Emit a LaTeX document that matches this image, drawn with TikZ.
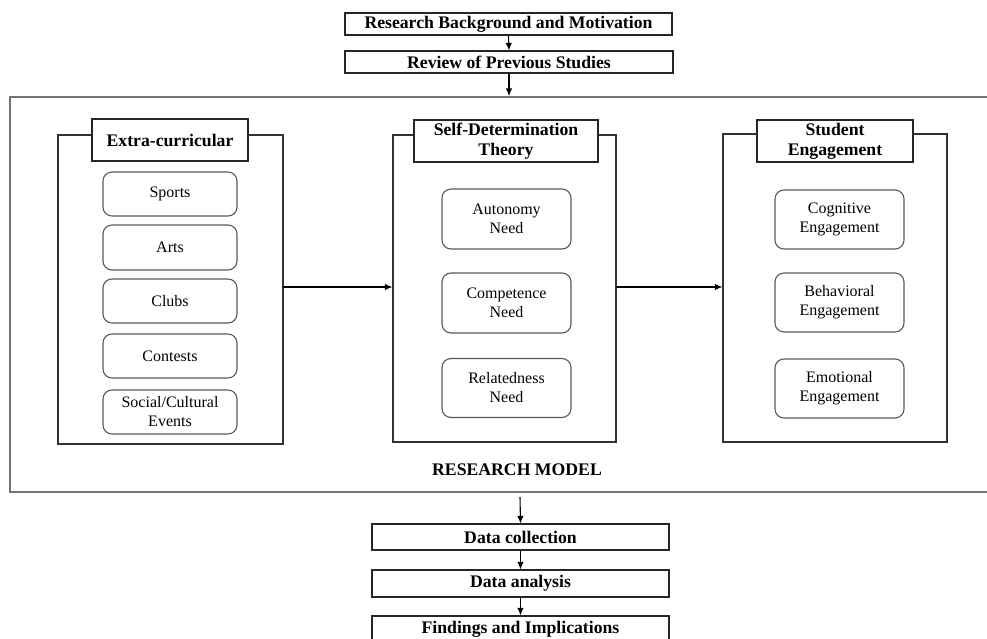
\documentclass[tikz,border=0pt]{standalone}
\usepackage{fontspec}
\setmainfont{Liberation Serif}
\usetikzlibrary{arrows.meta}
\begin{document}
\begin{tikzpicture}[x=1pt,y=-1pt,
  bx/.style={draw=black!85, line width=1.1pt, fill=white, inner sep=0pt, align=center,
    font=\fontsize{17.7}{20}\selectfont\bfseries},
  cont/.style={draw=black!80, line width=1.1pt, inner sep=0pt},
  item/.style={draw=black!65, line width=1.1pt, rounded corners=9pt, inner sep=0pt, align=center,
    font=\fontsize{16}{19}\selectfont},
  arr/.style={line width=1.1pt, -{Latex[length=7.5pt,width=6.5pt]}},
]
\useasboundingbox (0,0) rectangle (987,639);

% top flow
\node[bx, minimum width=327pt, minimum height=22pt] (rb) at (508.5,24) {Research Background and Motivation};
\node[bx, minimum width=328pt, minimum height=22pt] (rv) at (509,62) {Review of Previous Studies};
\draw[arr] (rb.south) -- (rv.north);

% outer research model frame (open at right)
\draw[draw=black!55, line width=1.5pt] (1000,97) -- (10,97) -- (10,492) -- (1000,492);
\coordinate (otop) at (509,96);
\draw[arr] (rv.south) -- (otop);

% left container
\node[cont, minimum width=225pt, minimum height=309pt] (lc) at (170.5,289.5) {};
\node[bx, minimum width=156pt, minimum height=42pt] (lt) at (170,140) {Extra-curricular};
\node[item, minimum width=134pt, minimum height=44pt] (sp) at (170,194) {Sports};
\node[item, minimum width=134pt, minimum height=45pt] (ar) at (170,247.5) {Arts};
\node[item, minimum width=134pt, minimum height=44pt] (cl) at (170,301) {Clubs};
\node[item, minimum width=134pt, minimum height=44pt] (co) at (170,356) {Contests};
\node[item, minimum width=134pt, minimum height=44pt] (so) at (170,412) {Social/Cultural\\Events};

% middle container
\node[cont, minimum width=223pt, minimum height=307pt] (mc) at (504.5,288.5) {};
\node[bx, minimum width=184pt, minimum height=42pt] (mt) at (506,141) {Self-Determination\\Theory};
\node[item, minimum width=129pt, minimum height=60pt] (au) at (506.5,219) {Autonomy\\Need};
\node[item, minimum width=129pt, minimum height=60pt] (cp) at (506.5,303) {Competence\\Need};
\node[item, minimum width=129pt, minimum height=59pt] (re) at (506.5,388) {Relatedness\\Need};

% right container
\node[cont, minimum width=224pt, minimum height=308pt] (rc) at (835,288) {};
\node[bx, minimum width=156pt, minimum height=42pt] (rt) at (835,141) {Student\\Engagement};
\node[item, minimum width=129pt, minimum height=59pt] (cg) at (839.5,219.5) {Cognitive\\Engagement};
\node[item, minimum width=129pt, minimum height=59pt] (bh) at (839.5,302.5) {Behavioral\\Engagement};
\node[item, minimum width=129pt, minimum height=59pt] (em) at (839.5,388.5) {Emotional\\Engagement};

% connectors between containers
\coordinate (la) at (283,287);
\draw[arr] (la) -- (la -| mc.west);
\coordinate (ma) at (616,287);
\draw[arr] (ma) -- (ma -| rc.west);

% label
\node[font=\fontsize{17.7}{20}\selectfont\bfseries] (rm) at (517,470) {RESEARCH MODEL};

% bottom flow
\coordinate (obot) at (520,497);
\node[bx, minimum width=297pt, minimum height=26pt] (dc) at (520.5,537) {Data collection};
\node[bx, minimum width=297pt, minimum height=27pt] (da) at (520.5,583.5) {Data analysis};
\node[bx, minimum width=297pt, minimum height=27pt] (fi) at (520.5,629.5) {Findings and Implications};
\draw[arr] (obot) -- (dc.north);
\draw[arr] (dc.south) -- (da.north);
\draw[arr] (da.south) -- (fi.north);
\end{tikzpicture}
\end{document}
